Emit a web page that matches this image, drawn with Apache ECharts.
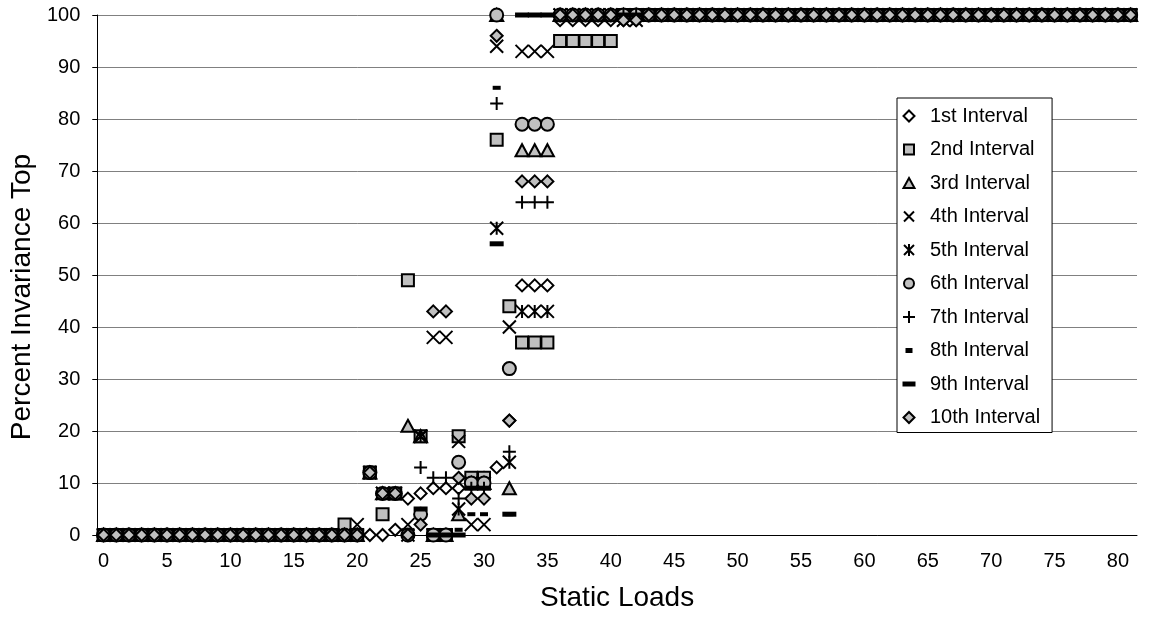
<!DOCTYPE html>
<html>
<head>
    <meta charset="utf-8">
    <title>Percent Invariance Top</title>
    <script src="https://cdn.jsdelivr.net/npm/echarts@6/dist/echarts.min.js"></script>
</head>
<body style="margin:0">
<div id="main" style="height: 617px; width: 1149px;"></div>
<script type="text/javascript">
    // static loads 0..81 (category axis, one slot per load)
    var loads = [];
    for (var i = 0; i <= 81; i++) loads.push(String(i));

    var names = ['1st Interval', '2nd Interval', '3rd Interval', '4th Interval', '5th Interval',
                 '6th Interval', '7th Interval', '8th Interval', '9th Interval', '10th Interval'];

    // values, loads 0..20 / 21..42 / 43..81
    var int1 = [0,0,0,0,0,0,0,0,0,0,0,0,0,0,0,0,0,0,0,0,0,
        0,0,1,7,8,9,9,9,10,11,13,22,48,48,48,99,99,99,99,99,99,99,
        100,100,100,100,100,100,100,100,100,100,100,100,100,100,100,100,100,100,100,100,100,100,100,100,100,100,100,100,100,100,100,100,100,100,100,100,100,100,100];
    var int2 = [0,0,0,0,0,0,0,0,0,0,0,0,0,0,0,0,0,0,0,2,0,
        12,4,8,49,19,0,0,19,11,11,76,44,37,37,37,95,95,95,95,95,100,100,
        100,100,100,100,100,100,100,100,100,100,100,100,100,100,100,100,100,100,100,100,100,100,100,100,100,100,100,100,100,100,100,100,100,100,100,100,100,100,100];
    var int3 = [0,0,0,0,0,0,0,0,0,0,0,0,0,0,0,0,0,0,0,0,0,
        12,8,8,21,19,0,0,4,10,10,100,9,74,74,74,100,100,100,100,100,100,100,
        100,100,100,100,100,100,100,100,100,100,100,100,100,100,100,100,100,100,100,100,100,100,100,100,100,100,100,100,100,100,100,100,100,100,100,100,100,100,100];
    var int4 = [0,0,0,0,0,0,0,0,0,0,0,0,0,0,0,0,0,0,0,0,2,
        12,8,8,2,19,38,38,18,2,2,94,40,93,93,93,100,100,100,100,100,99,99,
        100,100,100,100,100,100,100,100,100,100,100,100,100,100,100,100,100,100,100,100,100,100,100,100,100,100,100,100,100,100,100,100,100,100,100,100,100,100,100];
    var int5 = [0,0,0,0,0,0,0,0,0,0,0,0,0,0,0,0,0,0,0,0,0,
        12,8,8,0,19,0,0,5,10,10,59,14,43,43,43,100,100,100,100,100,100,100,
        100,100,100,100,100,100,100,100,100,100,100,100,100,100,100,100,100,100,100,100,100,100,100,100,100,100,100,100,100,100,100,100,100,100,100,100,100,100,100];
    var int6 = [0,0,0,0,0,0,0,0,0,0,0,0,0,0,0,0,0,0,0,0,0,
        12,8,8,0,4,0,0,14,10,10,100,32,79,79,79,100,100,100,100,100,100,100,
        100,100,100,100,100,100,100,100,100,100,100,100,100,100,100,100,100,100,100,100,100,100,100,100,100,100,100,100,100,100,100,100,100,100,100,100,100,100,100];
    var int7 = [0,0,0,0,0,0,0,0,0,0,0,0,0,0,0,0,0,0,0,0,0,
        12,8,8,0,13,11,11,7,9,9,83,16,64,64,64,100,100,100,100,100,100,100,
        100,100,100,100,100,100,100,100,100,100,100,100,100,100,100,100,100,100,100,100,100,100,100,100,100,100,100,100,100,100,100,100,100,100,100,100,100,100,100];
    var int8 = [0,0,0,0,0,0,0,0,0,0,0,0,0,0,0,0,0,0,0,0,0,
        12,8,8,0,5,0,0,1,4,4,86,4,100,100,100,100,100,100,100,100,100,100,
        100,100,100,100,100,100,100,100,100,100,100,100,100,100,100,100,100,100,100,100,100,100,100,100,100,100,100,100,100,100,100,100,100,100,100,100,100,100,100];
    var int9 = [0,0,0,0,0,0,0,0,0,0,0,0,0,0,0,0,0,0,0,0,0,
        12,8,8,0,5,0,0,0,9,9,56,4,100,100,100,100,100,100,100,100,100,100,
        100,100,100,100,100,100,100,100,100,100,100,100,100,100,100,100,100,100,100,100,100,100,100,100,100,100,100,100,100,100,100,100,100,100,100,100,100,100,100];
    var int10 = [0,0,0,0,0,0,0,0,0,0,0,0,0,0,0,0,0,0,0,0,0,
        12,8,8,0,2,43,43,11,7,7,96,22,68,68,68,100,100,100,100,100,99,99,
        100,100,100,100,100,100,100,100,100,100,100,100,100,100,100,100,100,100,100,100,100,100,100,100,100,100,100,100,100,100,100,100,100,100,100,100,100,100,100];

    var values = [int1, int2, int3, int4, int5, int6, int7, int8, int9, int10];

    var GRAY = '#c0c0c0';
    var FONT = 'Liberation Sans';

    // marker for the plot and a padded 14x14 icon for the legend
    var marks = [
        { symbol: 'diamond', size: 12, fill: '#fff', bw: 2,
          icon: 'path://M0,0M14,14M7,1.5L12.5,7L7,12.5L1.5,7Z' },
        { symbol: 'rect', size: 12, fill: GRAY, bw: 2,
          icon: 'path://M0,0M14,14M2,2h10v10h-10z' },
        { symbol: 'triangle', size: [13, 12], fill: GRAY, bw: 2,
          icon: 'path://M0,0M14,14M7,2L12.5,12H1.5Z' },
        { symbol: 'path://M0,0L12,12M12,0L0,12', size: 13, fill: '#000', bw: 2,
          icon: 'path://M0,0M14,14M2,2L12,12M12,2L2,12' },
        { symbol: 'path://M0,0L12,12M12,0L0,12M6,0L6,12', size: 13, fill: '#000', bw: 2,
          icon: 'path://M0,0M14,14M2,2L12,12M12,2L2,12M7,1L7,13' },
        { symbol: 'circle', size: 13, fill: GRAY, bw: 2,
          icon: 'path://M0,0M14,14M12,7A5,5,0,1,1,2,7A5,5,0,1,1,12,7Z' },
        { symbol: 'path://M6,0L6,12M0,6L12,6', size: 13, fill: '#000', bw: 2,
          icon: 'path://M0,0M14,14M7,1V13M1,7H13' },
        { symbol: 'rect', size: [8, 4], fill: '#000', bw: 0,
          icon: 'path://M0,0M14,14M3.5,4.5h7v5h-7z' },
        { symbol: 'rect', size: [14, 5], fill: '#000', bw: 0,
          icon: 'path://M0,0M14,14M0.5,4.5h13v5h-13z' },
        { symbol: 'diamond', size: 12, fill: GRAY, bw: 2,
          icon: 'path://M0,0M14,14M7,1.5L12.5,7L7,12.5L1.5,7Z' }
    ];

    var seriesdata = [];
    var legenddata = [];
    for (var s = 0; s < names.length; s++) {
        seriesdata.push({
            name: names[s],
            type: 'scatter',
            data: values[s],
            symbol: marks[s].symbol,
            symbolSize: marks[s].size,
            itemStyle: { color: marks[s].fill, borderColor: '#000', borderWidth: marks[s].bw, opacity: 1 }
        });
        legenddata.push({ name: names[s], icon: marks[s].icon });
    }

    var myChart = echarts.init(document.getElementById('main'));

    option = {
        animation: false,
        backgroundColor: '#fff',
        textStyle: { fontFamily: FONT },
        grid: { left: 96, right: 12, top: 15, bottom: 82 },
        legend: {
            orient: 'vertical',
            left: 897,
            top: 98,
            itemWidth: 14,
            itemHeight: 14,
            itemGap: 13.5,
            padding: [8, 12, 5, 4],
            backgroundColor: '#fff',
            borderColor: '#000',
            borderWidth: 1,
            borderRadius: 0,
            textStyle: { fontFamily: FONT, fontSize: 20, color: '#000', padding: [0, 0, 0, 9] },
            data: legenddata
        },
        xAxis: {
            type: 'category',
            data: loads,
            boundaryGap: true,
            name: 'Static Loads',
            nameLocation: 'middle',
            nameGap: 49,
            nameTextStyle: { fontFamily: FONT, fontSize: 28, color: '#000' },
            axisLine: { lineStyle: { color: '#000', width: 1 } },
            axisTick: { interval: 0, length: 5, lineStyle: { color: '#000' } },
            axisLabel: { interval: 4, fontFamily: FONT, fontSize: 20, color: '#000', margin: 16 },
            splitLine: { show: false }
        },
        yAxis: {
            type: 'value',
            min: 0,
            max: 100,
            interval: 10,
            name: 'Percent Invariance Top',
            nameLocation: 'middle',
            nameGap: 54,
            nameTextStyle: { fontFamily: FONT, fontSize: 28, color: '#000', padding: [0, 44, 0, 0] },
            axisLine: { show: true, lineStyle: { color: '#000', width: 1 } },
            axisTick: { show: true, length: 5, lineStyle: { color: '#000' } },
            axisLabel: { fontFamily: FONT, fontSize: 20, color: '#000', margin: 17 },
            splitLine: { show: true, lineStyle: { color: '#808080', width: 1 } }
        },
        series: seriesdata
    };

    myChart.setOption(option);
</script>
</body>
</html>
